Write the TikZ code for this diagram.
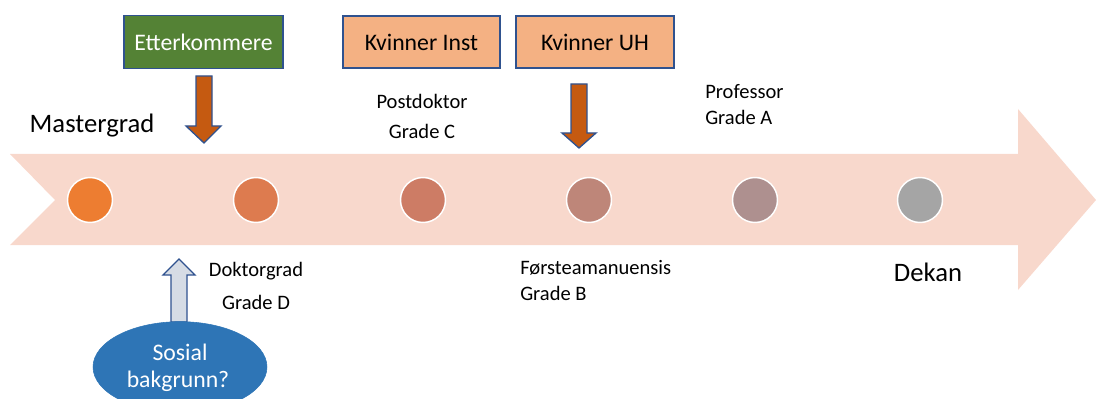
\documentclass[tikz,border=0pt]{standalone}
\usepackage{fontspec}
\setmainfont{Carlito}
\usetikzlibrary{shapes.geometric}
\definecolor{bandfill}{HTML}{F8D8CC}
\definecolor{edgeblue}{HTML}{2F528F}
\definecolor{greenbox}{HTML}{548235}
\definecolor{peachbox}{HTML}{F4B183}
\definecolor{rustarrow}{HTML}{C55A11}
\definecolor{paleblue}{HTML}{D6DCE5}
\definecolor{ovalblue}{HTML}{2E75B6}
\definecolor{dotA}{HTML}{ED7D31}
\definecolor{dotB}{HTML}{DD7B4F}
\definecolor{dotC}{HTML}{CD7C65}
\definecolor{dotD}{HTML}{BE8679}
\definecolor{dotE}{HTML}{AE908F}
\definecolor{dotF}{HTML}{A5A5A5}
\tikzset{
  x=0.75pt, y=-0.75pt,
  dot/.style={circle, draw=white, line width=1.1pt, minimum size=33.75pt, inner sep=0pt},
  topbox/.style={draw=edgeblue, line width=1.1pt, inner sep=0pt, font=\fontsize{17.8}{21}\selectfont},
  label/.style={font=\fontsize{15.4}{18}\selectfont, inner sep=0pt, align=center},
  biglabel/.style={font=\fontsize{20}{23}\selectfont, inner sep=0pt},
  blockarrow/.style={draw=edgeblue, line width=1pt, line join=miter},
  ovaltext/.style={text=white, font=\fontsize{17.8}{21}\selectfont, inner sep=0pt},
}
\begin{document}
\begin{tikzpicture}
\useasboundingbox (0,0) rectangle (1096,399);
% big timeline arrow
\fill[bandfill] (10,154) -- (1018,154) -- (1018,109) -- (1096,200) -- (1018,290) -- (1018,245) -- (10,245) -- (55,200) -- cycle;
% stage dots
\node[dot, fill=dotA] (d1) at (90,200) {};
\node[dot, fill=dotB] (d2) at (256,200) {};
\node[dot, fill=dotC] (d3) at (423,200) {};
\node[dot, fill=dotD] (d4) at (589,200) {};
\node[dot, fill=dotE] (d5) at (755,200) {};
\node[dot, fill=dotF] (d6) at (920,200) {};
% top boxes
\node[topbox, fill=greenbox, text=white, minimum width=119.25pt, minimum height=40pt] (etter) at (203.5,42) {Etterkommere};
\node[topbox, fill=peachbox, minimum width=117.75pt, minimum height=39pt] (kinst) at (421.5,42) {Kvinner Inst};
\node[topbox, fill=peachbox, minimum width=118.5pt, minimum height=39pt] (kuh) at (595,42) {Kvinner UH};
% block arrows
\draw[blockarrow, fill=rustarrow] (196,76) -- (212,76) -- (212,126) -- (221,126) -- (204,143) -- (186,126) -- (196,126) -- cycle;
\draw[blockarrow, fill=rustarrow] (571,84) -- (587,84) -- (587,133) -- (596,133) -- (579,148) -- (562,133) -- (571,133) -- cycle;
\draw[blockarrow, fill=paleblue] (171,322) -- (187,322) -- (187,275) -- (195,275) -- (179,259) -- (163,275) -- (171,275) -- cycle;
% oval
\node[ellipse, fill=ovalblue, draw=ovalblue, minimum width=130.5pt, minimum height=68pt, inner sep=0pt] (sosial) at (180,367) {};
\node[ovaltext] (sos1) at (180,352) {Sosial};
\node[ovaltext] (sos2) at (178,381) {bakgrunn?};
% labels
\node[biglabel] (master) at (92,126) {Mastergrad};
\node[biglabel] (dekan) at (928,272) {Dekan};
\node[label] (postdok) at (422,101) {Postdoktor};
\node[label] (gradec) at (422,131) {Grade C};
\node[label, anchor=west] (prof) at (705,92) {Professor};
\node[label, anchor=west] (gradea) at (705,117) {Grade A};
\node[label] (doktor) at (256,271) {Doktorgrad};
\node[label] (graded) at (256,302) {Grade D};
\node[label, anchor=west] (forste) at (520,268) {Førsteamanuensis};
\node[label, anchor=west] (gradeb) at (520,293) {Grade B};
\end{tikzpicture}
\end{document}
